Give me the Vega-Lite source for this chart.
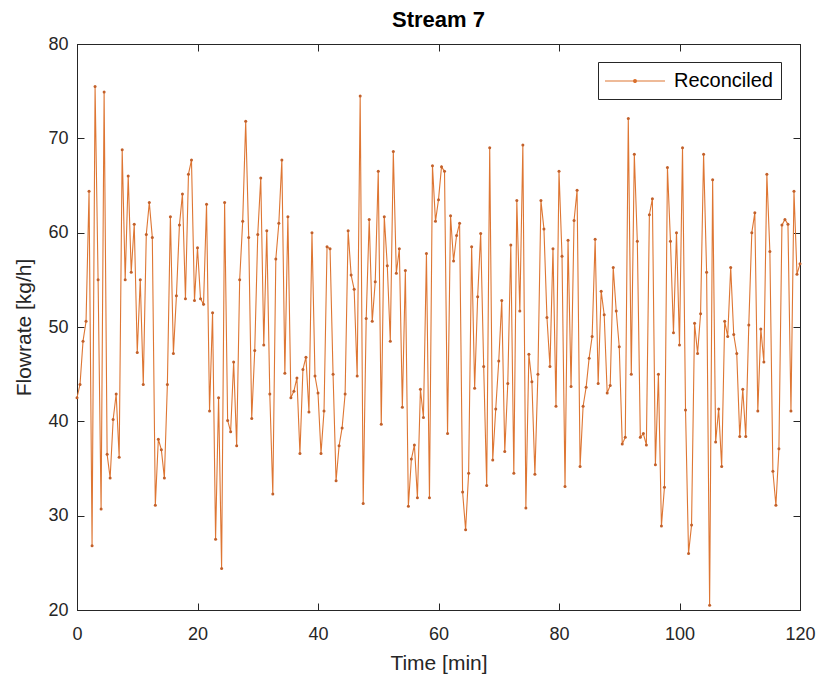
{
  "$schema": "https://vega.github.io/schema/vega-lite/v6.json",
  "width": 723,
  "height": 566,
  "autosize": {"type": "none"},
  "padding": {"left": 77, "top": 44, "right": 20, "bottom": 72},
  "background": "white",
  "title": {"text": "Stream 7", "fontSize": 22, "fontWeight": "bold", "font": "Liberation Sans", "color": "#000000", "offset": 3, "anchor": "middle"},
  "config": {"view": {"stroke": "#262626", "strokeWidth": 1}, "font": "Liberation Sans"},
  "data": {"values": [
    {"t":0,"v":42.5},{"t":0.5,"v":43.9},{"t":1,"v":48.5},{"t":1.5,"v":50.6},{"t":2,"v":64.4},{"t":2.5,"v":26.8},{"t":3,"v":75.5},{"t":3.5,"v":55},{"t":4,"v":30.7},{"t":4.5,"v":74.9},
    {"t":5,"v":36.5},{"t":5.5,"v":34},{"t":6,"v":40.2},{"t":6.5,"v":42.9},{"t":7,"v":36.2},{"t":7.5,"v":68.8},{"t":8,"v":55},{"t":8.5,"v":66},{"t":9,"v":55.8},{"t":9.5,"v":60.9},
    {"t":10,"v":47.3},{"t":10.5,"v":55},{"t":11,"v":43.9},{"t":11.5,"v":59.8},{"t":12,"v":63.2},{"t":12.5,"v":59.5},{"t":13,"v":31.1},{"t":13.5,"v":38.1},{"t":14,"v":37},{"t":14.5,"v":34},
    {"t":15,"v":43.9},{"t":15.5,"v":61.7},{"t":16,"v":47.2},{"t":16.5,"v":53.3},{"t":17,"v":60.8},{"t":17.5,"v":64.1},{"t":18,"v":53},{"t":18.5,"v":66.2},{"t":19,"v":67.7},{"t":19.5,"v":52.8},
    {"t":20,"v":58.4},{"t":20.5,"v":53},{"t":21,"v":52.4},{"t":21.5,"v":63},{"t":22,"v":41.1},{"t":22.5,"v":51.5},{"t":23,"v":27.5},{"t":23.5,"v":42.5},{"t":24,"v":24.4},{"t":24.5,"v":63.2},
    {"t":25,"v":40.1},{"t":25.5,"v":38.9},{"t":26,"v":46.3},{"t":26.5,"v":37.4},{"t":27,"v":55},{"t":27.5,"v":61.2},{"t":28,"v":71.8},{"t":28.5,"v":59.5},{"t":29,"v":40.3},{"t":29.5,"v":47.5},
    {"t":30,"v":59.8},{"t":30.5,"v":65.8},{"t":31,"v":48.1},{"t":31.5,"v":60.2},{"t":32,"v":42.9},{"t":32.5,"v":32.3},{"t":33,"v":57.2},{"t":33.5,"v":61},{"t":34,"v":67.7},{"t":34.5,"v":45.1},
    {"t":35,"v":61.7},{"t":35.5,"v":42.5},{"t":36,"v":43.2},{"t":36.5,"v":44.6},{"t":37,"v":36.6},{"t":37.5,"v":45.5},{"t":38,"v":46.8},{"t":38.5,"v":41},{"t":39,"v":60},{"t":39.5,"v":44.8},
    {"t":40,"v":43},{"t":40.5,"v":36.6},{"t":41,"v":41.1},{"t":41.5,"v":58.5},{"t":42,"v":58.3},{"t":42.5,"v":45},{"t":43,"v":33.7},{"t":43.5,"v":37.4},{"t":44,"v":39.3},{"t":44.5,"v":42.9},
    {"t":45,"v":60.2},{"t":45.5,"v":55.5},{"t":46,"v":54},{"t":46.5,"v":44.8},{"t":47,"v":74.5},{"t":47.5,"v":31.3},{"t":48,"v":50.9},{"t":48.5,"v":61.4},{"t":49,"v":50.6},{"t":49.5,"v":54.8},
    {"t":50,"v":66.5},{"t":50.5,"v":39.7},{"t":51,"v":61.7},{"t":51.5,"v":56.5},{"t":52,"v":48.5},{"t":52.5,"v":68.6},{"t":53,"v":55.7},{"t":53.5,"v":58.3},{"t":54,"v":41.5},{"t":54.5,"v":56},
    {"t":55,"v":31},{"t":55.5,"v":36},{"t":56,"v":37.5},{"t":56.5,"v":31.9},{"t":57,"v":43.4},{"t":57.5,"v":40.4},{"t":58,"v":57.8},{"t":58.5,"v":31.9},{"t":59,"v":67.1},{"t":59.5,"v":61.2},
    {"t":60,"v":63.5},{"t":60.5,"v":67},{"t":61,"v":66.5},{"t":61.5,"v":38.7},{"t":62,"v":61.8},{"t":62.5,"v":57},{"t":63,"v":59.7},{"t":63.5,"v":61},{"t":64,"v":32.5},{"t":64.5,"v":28.5},
    {"t":65,"v":34.5},{"t":65.5,"v":58.5},{"t":66,"v":43.5},{"t":66.5,"v":53.2},{"t":67,"v":59.9},{"t":67.5,"v":45.8},{"t":68,"v":33.2},{"t":68.5,"v":69},{"t":69,"v":35.9},{"t":69.5,"v":41.3},
    {"t":70,"v":46.4},{"t":70.5,"v":52.8},{"t":71,"v":36.8},{"t":71.5,"v":44},{"t":72,"v":58.7},{"t":72.5,"v":34.5},{"t":73,"v":63.4},{"t":73.5,"v":51.7},{"t":74,"v":69.3},{"t":74.5,"v":30.8},
    {"t":75,"v":47.1},{"t":75.5,"v":44.2},{"t":76,"v":34.4},{"t":76.5,"v":45},{"t":77,"v":63.4},{"t":77.5,"v":60.4},{"t":78,"v":51},{"t":78.5,"v":45.8},{"t":79,"v":58.3},{"t":79.5,"v":41.6},
    {"t":80,"v":66.5},{"t":80.5,"v":57.5},{"t":81,"v":33.1},{"t":81.5,"v":59.2},{"t":82,"v":43.7},{"t":82.5,"v":61.3},{"t":83,"v":64.5},{"t":83.5,"v":35.2},{"t":84,"v":41.6},{"t":84.5,"v":43.6},
    {"t":85,"v":46.7},{"t":85.5,"v":49},{"t":86,"v":59.3},{"t":86.5,"v":44},{"t":87,"v":53.8},{"t":87.5,"v":51.3},{"t":88,"v":43},{"t":88.5,"v":43.8},{"t":89,"v":56.3},{"t":89.5,"v":51.7},
    {"t":90,"v":47.9},{"t":90.5,"v":37.6},{"t":91,"v":38.3},{"t":91.5,"v":72.1},{"t":92,"v":45},{"t":92.5,"v":68.3},{"t":93,"v":59.1},{"t":93.5,"v":38.3},{"t":94,"v":38.7},{"t":94.5,"v":37.5},
    {"t":95,"v":61.9},{"t":95.5,"v":63.6},{"t":96,"v":35.4},{"t":96.5,"v":45},{"t":97,"v":28.9},{"t":97.5,"v":33},{"t":98,"v":66.9},{"t":98.5,"v":59.1},{"t":99,"v":49.4},{"t":99.5,"v":60},
    {"t":100,"v":48.1},{"t":100.5,"v":69},{"t":101,"v":41.2},{"t":101.5,"v":26},{"t":102,"v":29},{"t":102.5,"v":50.4},{"t":103,"v":47.2},{"t":103.5,"v":51.4},{"t":104,"v":68.3},{"t":104.5,"v":55.8},
    {"t":105,"v":20.5},{"t":105.5,"v":65.6},{"t":106,"v":37.8},{"t":106.5,"v":41.3},{"t":107,"v":35.2},{"t":107.5,"v":50.6},{"t":108,"v":49},{"t":108.5,"v":56.3},{"t":109,"v":49.2},{"t":109.5,"v":47.2},
    {"t":110,"v":38.4},{"t":110.5,"v":43.4},{"t":111,"v":38.4},{"t":111.5,"v":50.2},{"t":112,"v":60},{"t":112.5,"v":62.1},{"t":113,"v":41.1},{"t":113.5,"v":49.8},{"t":114,"v":46.3},{"t":114.5,"v":66.2},
    {"t":115,"v":58},{"t":115.5,"v":34.7},{"t":116,"v":31.1},{"t":116.5,"v":37.1},{"t":117,"v":60.8},{"t":117.5,"v":61.4},{"t":118,"v":60.9},{"t":118.5,"v":41.1},{"t":119,"v":64.4},{"t":119.5,"v":55.6},
    {"t":120,"v":56.7}
  ]},
  "resolve": {"axis": {"x": "independent", "y": "independent"}},
  "layer": [
    {
      "mark": {"type": "line", "strokeWidth": 1.1},
      "encoding": {
        "x": {"field": "t", "type": "quantitative", "scale": {"domain": [0, 120], "nice": false},
          "axis": {"values": [0, 20, 40, 60, 80, 100, 120], "labelFlush": false, "title": "Time [min]", "grid": false, "tickSize": -7, "tickColor": "#262626", "domainColor": "#262626", "labelFontSize": 18, "labelColor": "#262626", "labelPadding": 22, "titleFontSize": 21, "titleFontWeight": "normal", "titleColor": "#262626", "titlePadding": 9, "labelFont": "Liberation Sans", "titleFont": "Liberation Sans"}},
        "y": {"field": "v", "type": "quantitative", "scale": {"domain": [20, 80], "nice": false, "zero": false},
          "axis": {"values": [20, 30, 40, 50, 60, 70, 80], "title": "Flowrate [kg/h]", "grid": false, "tickSize": -7, "tickColor": "#262626", "domainColor": "#262626", "labelFontSize": 18, "labelColor": "#262626", "labelPadding": 16, "titleFontSize": 21, "titleFontWeight": "normal", "titleColor": "#262626", "titlePadding": 13, "labelFont": "Liberation Sans", "titleFont": "Liberation Sans"}},
        "color": {"datum": "Reconciled", "type": "nominal", "scale": {"range": ["#DE7633"]},
          "legend": {"orient": "none", "legendX": 521, "legendY": 18, "title": null, "symbolType": "M-3,0L3,0M-0.15,0A0.15,0.15 0 1,0 0.15,0A0.15,0.15 0 1,0 -0.15,0", "symbolSize": 400, "symbolStrokeWidth": 1.1, "symbolFillColor": "#C2602A", "symbolStrokeColor": "#DE7633", "symbolOffset": 18, "labelOffset": 28, "labelFontSize": 20, "labelColor": "#000000", "labelFont": "Liberation Sans", "strokeColor": "#262626", "fillColor": "white", "padding": 8}}
      }
    },
    {
      "mark": {"type": "point", "filled": true, "size": 9, "color": "#C2602A", "opacity": 1},
      "encoding": {
        "x": {"field": "t", "type": "quantitative", "scale": {"domain": [0, 120], "nice": false},
          "axis": {"orient": "top", "values": [0, 20, 40, 60, 80, 100, 120], "title": null, "labels": false, "grid": false, "tickSize": -7, "tickColor": "#262626", "domainColor": "#262626"}},
        "y": {"field": "v", "type": "quantitative", "scale": {"domain": [20, 80], "nice": false, "zero": false},
          "axis": {"orient": "right", "values": [20, 30, 40, 50, 60, 70, 80], "title": null, "labels": false, "grid": false, "tickSize": -7, "tickColor": "#262626", "domainColor": "#262626"}}
      }
    }
  ]
}
